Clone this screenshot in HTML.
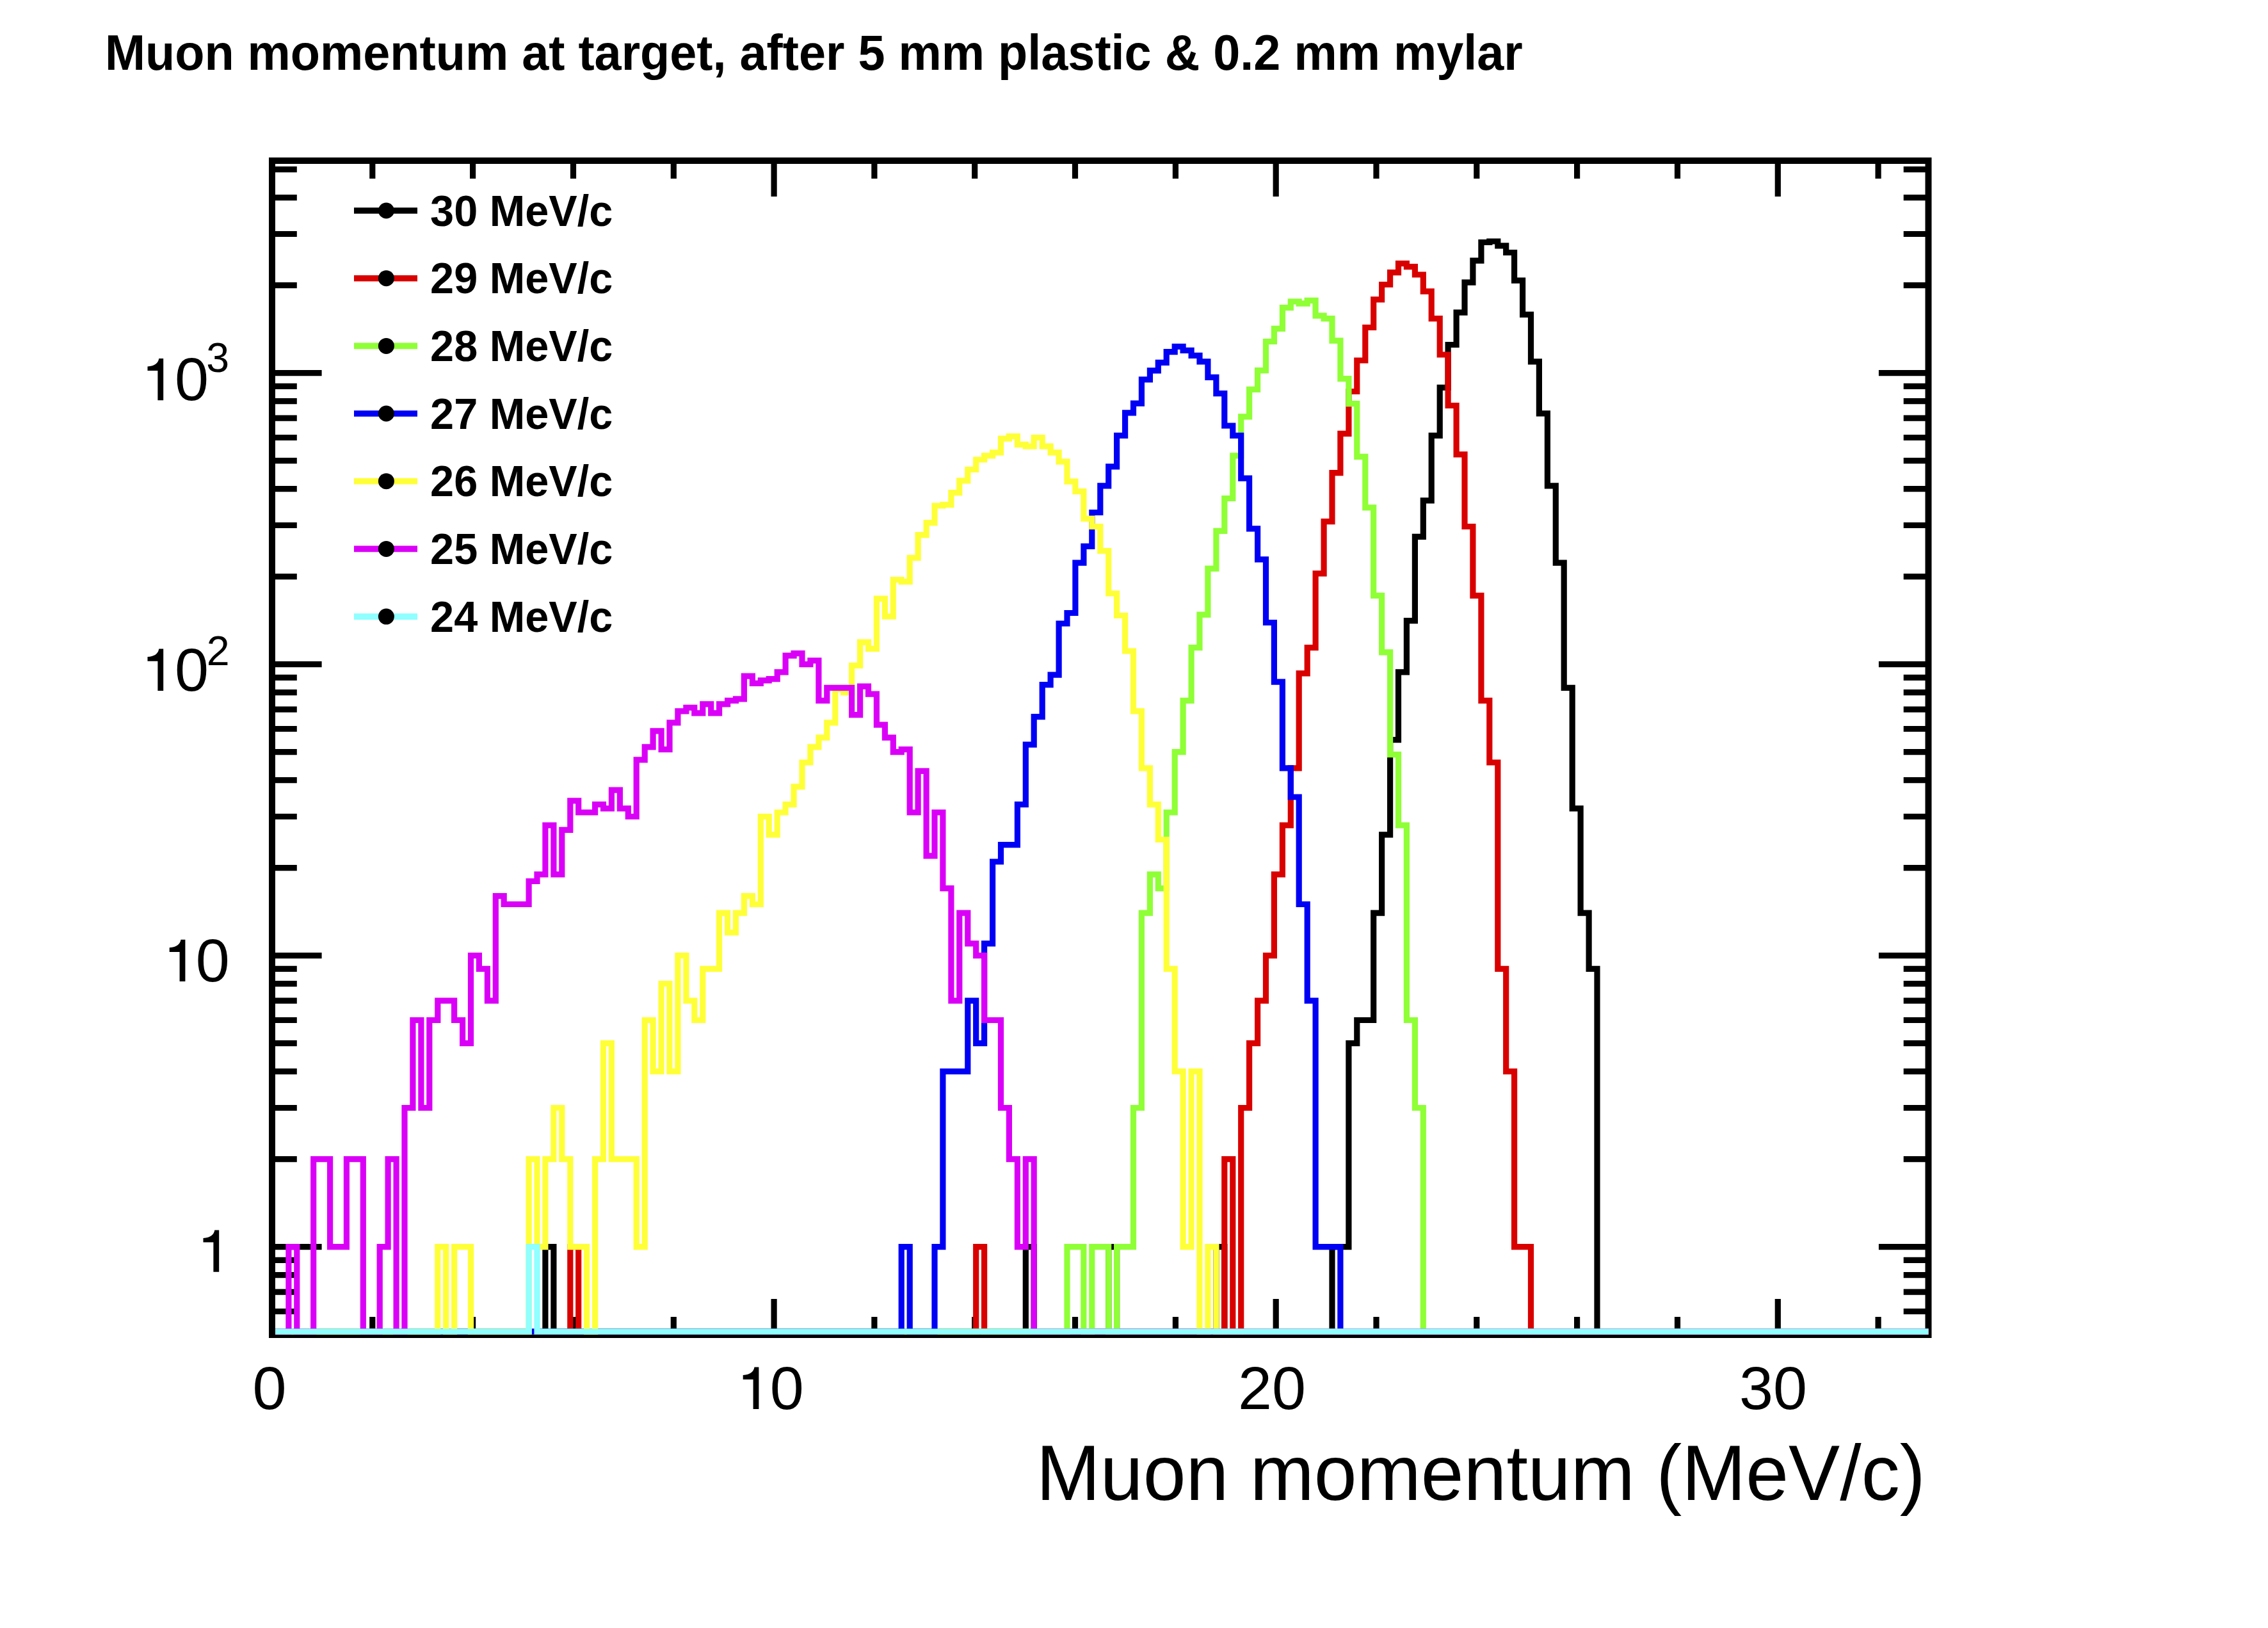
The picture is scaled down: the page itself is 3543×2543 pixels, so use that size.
<!DOCTYPE html>
<html><head><meta charset="utf-8"><style>html,body{margin:0;padding:0;background:#fff;overflow:hidden}svg{display:block}</style></head><body>
<svg width="3543" height="2543" viewBox="0 0 3543 2543">
<rect x="0" y="0" width="3543" height="2543" fill="#ffffff"/>
<rect x="425.0" y="251.0" width="2587.5" height="1834.0" fill="none" stroke="#000" stroke-width="10"/>
<path d="M425.0 2085.0V2029.0M425.0 251.0V307.0M581.8 2085.0V2057.0M581.8 251.0V279.0M738.6 2085.0V2057.0M738.6 251.0V279.0M895.5 2085.0V2057.0M895.5 251.0V279.0M1052.3 2085.0V2057.0M1052.3 251.0V279.0M1209.1 2085.0V2029.0M1209.1 251.0V307.0M1365.9 2085.0V2057.0M1365.9 251.0V279.0M1522.7 2085.0V2057.0M1522.7 251.0V279.0M1679.5 2085.0V2057.0M1679.5 251.0V279.0M1836.4 2085.0V2057.0M1836.4 251.0V279.0M1993.2 2085.0V2029.0M1993.2 251.0V307.0M2150.0 2085.0V2057.0M2150.0 251.0V279.0M2306.8 2085.0V2057.0M2306.8 251.0V279.0M2463.6 2085.0V2057.0M2463.6 251.0V279.0M2620.5 2085.0V2057.0M2620.5 251.0V279.0M2777.3 2085.0V2029.0M2777.3 251.0V307.0M2934.1 2085.0V2057.0M2934.1 251.0V279.0M425.0 2048.5H463.8M3012.5 2048.5H2973.7M425.0 2018.1H463.8M3012.5 2018.1H2973.7M425.0 1991.7H463.8M3012.5 1991.7H2973.7M425.0 1968.4H463.8M3012.5 1968.4H2973.7M425.0 1947.6H502.6M3012.5 1947.6H2934.9M425.0 1810.6H463.8M3012.5 1810.6H2973.7M425.0 1730.5H463.8M3012.5 1730.5H2973.7M425.0 1673.7H463.8M3012.5 1673.7H2973.7M425.0 1629.6H463.8M3012.5 1629.6H2973.7M425.0 1593.5H463.8M3012.5 1593.5H2973.7M425.0 1563.1H463.8M3012.5 1563.1H2973.7M425.0 1536.7H463.8M3012.5 1536.7H2973.7M425.0 1513.4H463.8M3012.5 1513.4H2973.7M425.0 1492.6H502.6M3012.5 1492.6H2934.9M425.0 1355.6H463.8M3012.5 1355.6H2973.7M425.0 1275.5H463.8M3012.5 1275.5H2973.7M425.0 1218.7H463.8M3012.5 1218.7H2973.7M425.0 1174.6H463.8M3012.5 1174.6H2973.7M425.0 1138.5H463.8M3012.5 1138.5H2973.7M425.0 1108.1H463.8M3012.5 1108.1H2973.7M425.0 1081.7H463.8M3012.5 1081.7H2973.7M425.0 1058.4H463.8M3012.5 1058.4H2973.7M425.0 1037.6H502.6M3012.5 1037.6H2934.9M425.0 900.6H463.8M3012.5 900.6H2973.7M425.0 820.5H463.8M3012.5 820.5H2973.7M425.0 763.7H463.8M3012.5 763.7H2973.7M425.0 719.6H463.8M3012.5 719.6H2973.7M425.0 683.5H463.8M3012.5 683.5H2973.7M425.0 653.1H463.8M3012.5 653.1H2973.7M425.0 626.7H463.8M3012.5 626.7H2973.7M425.0 603.4H463.8M3012.5 603.4H2973.7M425.0 582.6H502.6M3012.5 582.6H2934.9M425.0 445.6H463.8M3012.5 445.6H2973.7M425.0 365.5H463.8M3012.5 365.5H2973.7M425.0 308.7H463.8M3012.5 308.7H2973.7M425.0 264.6H463.8M3012.5 264.6H2973.7" stroke="#000" stroke-width="9.2" fill="none"/>
<path d="M425.0 2080.0L437.9 2080.0L437.9 2080.0L450.9 2080.0L450.9 2080.0L463.8 2080.0L463.8 2080.0L476.8 2080.0L476.8 2080.0L489.7 2080.0L489.7 2080.0L502.6 2080.0L502.6 2080.0L515.6 2080.0L515.6 2080.0L528.5 2080.0L528.5 2080.0L541.4 2080.0L541.4 2080.0L554.4 2080.0L554.4 2080.0L567.3 2080.0L567.3 2080.0L580.2 2080.0L580.2 2080.0L593.2 2080.0L593.2 2080.0L606.1 2080.0L606.1 2080.0L619.1 2080.0L619.1 2080.0L632.0 2080.0L632.0 2080.0L644.9 2080.0L644.9 2080.0L657.9 2080.0L657.9 2080.0L670.8 2080.0L670.8 2080.0L683.8 2080.0L683.8 2080.0L696.7 2080.0L696.7 2080.0L709.6 2080.0L709.6 2080.0L722.6 2080.0L722.6 2080.0L735.5 2080.0L735.5 2080.0L748.4 2080.0L748.4 2080.0L761.4 2080.0L761.4 2080.0L774.3 2080.0L774.3 2080.0L787.2 2080.0L787.2 2080.0L800.2 2080.0L800.2 2080.0L813.1 2080.0L813.1 2080.0L826.1 2080.0L826.1 2080.0L839.0 2080.0L839.0 2080.0L851.9 2080.0L851.9 1947.6L864.9 1947.6L864.9 2080.0L877.8 2080.0L877.8 2080.0L890.8 2080.0L890.8 2080.0L903.7 2080.0L903.7 2080.0L916.6 2080.0L916.6 2080.0L929.6 2080.0L929.6 2080.0L942.5 2080.0L942.5 2080.0L955.4 2080.0L955.4 2080.0L968.4 2080.0L968.4 2080.0L981.3 2080.0L981.3 2080.0L994.2 2080.0L994.2 2080.0L1007.2 2080.0L1007.2 2080.0L1020.1 2080.0L1020.1 2080.0L1033.1 2080.0L1033.1 2080.0L1046.0 2080.0L1046.0 2080.0L1058.9 2080.0L1058.9 2080.0L1071.9 2080.0L1071.9 2080.0L1084.8 2080.0L1084.8 2080.0L1097.8 2080.0L1097.8 2080.0L1110.7 2080.0L1110.7 2080.0L1123.6 2080.0L1123.6 2080.0L1136.6 2080.0L1136.6 2080.0L1149.5 2080.0L1149.5 2080.0L1162.4 2080.0L1162.4 2080.0L1175.4 2080.0L1175.4 2080.0L1188.3 2080.0L1188.3 2080.0L1201.2 2080.0L1201.2 2080.0L1214.2 2080.0L1214.2 2080.0L1227.1 2080.0L1227.1 2080.0L1240.1 2080.0L1240.1 2080.0L1253.0 2080.0L1253.0 2080.0L1265.9 2080.0L1265.9 2080.0L1278.9 2080.0L1278.9 2080.0L1291.8 2080.0L1291.8 2080.0L1304.8 2080.0L1304.8 2080.0L1317.7 2080.0L1317.7 2080.0L1330.6 2080.0L1330.6 2080.0L1343.6 2080.0L1343.6 2080.0L1356.5 2080.0L1356.5 2080.0L1369.4 2080.0L1369.4 2080.0L1382.4 2080.0L1382.4 2080.0L1395.3 2080.0L1395.3 2080.0L1408.2 2080.0L1408.2 2080.0L1421.2 2080.0L1421.2 2080.0L1434.1 2080.0L1434.1 2080.0L1447.1 2080.0L1447.1 2080.0L1460.0 2080.0L1460.0 2080.0L1472.9 2080.0L1472.9 2080.0L1485.9 2080.0L1485.9 2080.0L1498.8 2080.0L1498.8 2080.0L1511.8 2080.0L1511.8 2080.0L1524.7 2080.0L1524.7 2080.0L1537.6 2080.0L1537.6 2080.0L1550.6 2080.0L1550.6 2080.0L1563.5 2080.0L1563.5 2080.0L1576.4 2080.0L1576.4 2080.0L1589.4 2080.0L1589.4 2080.0L1602.3 2080.0L1602.3 1947.6L1615.2 1947.6L1615.2 2080.0L1628.2 2080.0L1628.2 2080.0L1641.1 2080.0L1641.1 2080.0L1654.1 2080.0L1654.1 2080.0L1667.0 2080.0L1667.0 2080.0L1679.9 2080.0L1679.9 2080.0L1692.9 2080.0L1692.9 2080.0L1705.8 2080.0L1705.8 2080.0L1718.8 2080.0L1718.8 2080.0L1731.7 2080.0L1731.7 1947.6L1744.6 1947.6L1744.6 2080.0L1757.6 2080.0L1757.6 2080.0L1770.5 2080.0L1770.5 2080.0L1783.4 2080.0L1783.4 2080.0L1796.4 2080.0L1796.4 2080.0L1809.3 2080.0L1809.3 2080.0L1822.2 2080.0L1822.2 2080.0L1835.2 2080.0L1835.2 2080.0L1848.1 2080.0L1848.1 2080.0L1861.1 2080.0L1861.1 2080.0L1874.0 2080.0L1874.0 2080.0L1886.9 2080.0L1886.9 2080.0L1899.9 2080.0L1899.9 1947.6L1912.8 1947.6L1912.8 2080.0L1925.8 2080.0L1925.8 2080.0L1938.7 2080.0L1938.7 2080.0L1951.6 2080.0L1951.6 2080.0L1964.6 2080.0L1964.6 2080.0L1977.5 2080.0L1977.5 2080.0L1990.4 2080.0L1990.4 2080.0L2003.4 2080.0L2003.4 2080.0L2016.3 2080.0L2016.3 2080.0L2029.2 2080.0L2029.2 2080.0L2042.2 2080.0L2042.2 2080.0L2055.1 2080.0L2055.1 2080.0L2068.1 2080.0L2068.1 2080.0L2081.0 2080.0L2081.0 1947.6L2093.9 1947.6L2093.9 1947.6L2106.9 1947.6L2106.9 1629.6L2119.8 1629.6L2119.8 1593.5L2132.8 1593.5L2132.8 1593.5L2145.7 1593.5L2145.7 1426.1L2158.6 1426.1L2158.6 1303.8L2171.6 1303.8L2171.6 1155.7L2184.5 1155.7L2184.5 1049.8L2197.4 1049.8L2197.4 969.7L2210.4 969.7L2210.4 838.4L2223.3 838.4L2223.3 781.8L2236.2 781.8L2236.2 680.3L2249.2 680.3L2249.2 605.4L2262.1 605.4L2262.1 538.5L2275.1 538.5L2275.1 488.2L2288.0 488.2L2288.0 441.1L2300.9 441.1L2300.9 407.1L2313.9 407.1L2313.9 378.5L2326.8 378.5L2326.8 377.0L2339.8 377.0L2339.8 383.8L2352.7 383.8L2352.7 394.5L2365.6 394.5L2365.6 438.1L2378.6 438.1L2378.6 491.3L2391.5 491.3L2391.5 564.8L2404.4 564.8L2404.4 645.9L2417.4 645.9L2417.4 758.8L2430.3 758.8L2430.3 879.1L2443.2 879.1L2443.2 1074.4L2456.2 1074.4L2456.2 1262.8L2469.1 1262.8L2469.1 1426.1L2482.1 1426.1L2482.1 1513.4L2495.0 1513.4L2495.0 2080.0L2507.9 2080.0L2507.9 2080.0L2520.9 2080.0L2520.9 2080.0L2533.8 2080.0L2533.8 2080.0L2546.8 2080.0L2546.8 2080.0L2559.7 2080.0L2559.7 2080.0L2572.6 2080.0L2572.6 2080.0L2585.6 2080.0L2585.6 2080.0L2598.5 2080.0L2598.5 2080.0L2611.4 2080.0L2611.4 2080.0L2624.4 2080.0L2624.4 2080.0L2637.3 2080.0L2637.3 2080.0L2650.2 2080.0L2650.2 2080.0L2663.2 2080.0L2663.2 2080.0L2676.1 2080.0L2676.1 2080.0L2689.1 2080.0L2689.1 2080.0L2702.0 2080.0L2702.0 2080.0L2714.9 2080.0L2714.9 2080.0L2727.9 2080.0L2727.9 2080.0L2740.8 2080.0L2740.8 2080.0L2753.8 2080.0L2753.8 2080.0L2766.7 2080.0L2766.7 2080.0L2779.6 2080.0L2779.6 2080.0L2792.6 2080.0L2792.6 2080.0L2805.5 2080.0L2805.5 2080.0L2818.4 2080.0L2818.4 2080.0L2831.4 2080.0L2831.4 2080.0L2844.3 2080.0L2844.3 2080.0L2857.2 2080.0L2857.2 2080.0L2870.2 2080.0L2870.2 2080.0L2883.1 2080.0L2883.1 2080.0L2896.1 2080.0L2896.1 2080.0L2909.0 2080.0L2909.0 2080.0L2921.9 2080.0L2921.9 2080.0L2934.9 2080.0L2934.9 2080.0L2947.8 2080.0L2947.8 2080.0L2960.8 2080.0L2960.8 2080.0L2973.7 2080.0L2973.7 2080.0L2986.6 2080.0L2986.6 2080.0L2999.6 2080.0L2999.6 2080.0L3012.5 2080.0" stroke="#000000" stroke-width="9.2" fill="none" stroke-linejoin="miter" stroke-linecap="butt"/>
<path d="M425.0 2080.0L437.9 2080.0L437.9 2080.0L450.9 2080.0L450.9 2080.0L463.8 2080.0L463.8 2080.0L476.8 2080.0L476.8 2080.0L489.7 2080.0L489.7 2080.0L502.6 2080.0L502.6 2080.0L515.6 2080.0L515.6 2080.0L528.5 2080.0L528.5 2080.0L541.4 2080.0L541.4 2080.0L554.4 2080.0L554.4 2080.0L567.3 2080.0L567.3 2080.0L580.2 2080.0L580.2 2080.0L593.2 2080.0L593.2 2080.0L606.1 2080.0L606.1 2080.0L619.1 2080.0L619.1 2080.0L632.0 2080.0L632.0 2080.0L644.9 2080.0L644.9 2080.0L657.9 2080.0L657.9 2080.0L670.8 2080.0L670.8 2080.0L683.8 2080.0L683.8 2080.0L696.7 2080.0L696.7 2080.0L709.6 2080.0L709.6 2080.0L722.6 2080.0L722.6 2080.0L735.5 2080.0L735.5 2080.0L748.4 2080.0L748.4 2080.0L761.4 2080.0L761.4 2080.0L774.3 2080.0L774.3 2080.0L787.2 2080.0L787.2 2080.0L800.2 2080.0L800.2 2080.0L813.1 2080.0L813.1 2080.0L826.1 2080.0L826.1 2080.0L839.0 2080.0L839.0 2080.0L851.9 2080.0L851.9 2080.0L864.9 2080.0L864.9 2080.0L877.8 2080.0L877.8 2080.0L890.8 2080.0L890.8 1947.6L903.7 1947.6L903.7 2080.0L916.6 2080.0L916.6 2080.0L929.6 2080.0L929.6 2080.0L942.5 2080.0L942.5 2080.0L955.4 2080.0L955.4 2080.0L968.4 2080.0L968.4 2080.0L981.3 2080.0L981.3 2080.0L994.2 2080.0L994.2 2080.0L1007.2 2080.0L1007.2 2080.0L1020.1 2080.0L1020.1 2080.0L1033.1 2080.0L1033.1 2080.0L1046.0 2080.0L1046.0 2080.0L1058.9 2080.0L1058.9 2080.0L1071.9 2080.0L1071.9 2080.0L1084.8 2080.0L1084.8 2080.0L1097.8 2080.0L1097.8 2080.0L1110.7 2080.0L1110.7 2080.0L1123.6 2080.0L1123.6 2080.0L1136.6 2080.0L1136.6 2080.0L1149.5 2080.0L1149.5 2080.0L1162.4 2080.0L1162.4 2080.0L1175.4 2080.0L1175.4 2080.0L1188.3 2080.0L1188.3 2080.0L1201.2 2080.0L1201.2 2080.0L1214.2 2080.0L1214.2 2080.0L1227.1 2080.0L1227.1 2080.0L1240.1 2080.0L1240.1 2080.0L1253.0 2080.0L1253.0 2080.0L1265.9 2080.0L1265.9 2080.0L1278.9 2080.0L1278.9 2080.0L1291.8 2080.0L1291.8 2080.0L1304.8 2080.0L1304.8 2080.0L1317.7 2080.0L1317.7 2080.0L1330.6 2080.0L1330.6 2080.0L1343.6 2080.0L1343.6 2080.0L1356.5 2080.0L1356.5 2080.0L1369.4 2080.0L1369.4 2080.0L1382.4 2080.0L1382.4 2080.0L1395.3 2080.0L1395.3 2080.0L1408.2 2080.0L1408.2 2080.0L1421.2 2080.0L1421.2 2080.0L1434.1 2080.0L1434.1 2080.0L1447.1 2080.0L1447.1 2080.0L1460.0 2080.0L1460.0 2080.0L1472.9 2080.0L1472.9 2080.0L1485.9 2080.0L1485.9 2080.0L1498.8 2080.0L1498.8 2080.0L1511.8 2080.0L1511.8 2080.0L1524.7 2080.0L1524.7 1947.6L1537.6 1947.6L1537.6 2080.0L1550.6 2080.0L1550.6 2080.0L1563.5 2080.0L1563.5 2080.0L1576.4 2080.0L1576.4 2080.0L1589.4 2080.0L1589.4 2080.0L1602.3 2080.0L1602.3 2080.0L1615.2 2080.0L1615.2 2080.0L1628.2 2080.0L1628.2 2080.0L1641.1 2080.0L1641.1 2080.0L1654.1 2080.0L1654.1 2080.0L1667.0 2080.0L1667.0 2080.0L1679.9 2080.0L1679.9 2080.0L1692.9 2080.0L1692.9 2080.0L1705.8 2080.0L1705.8 2080.0L1718.8 2080.0L1718.8 2080.0L1731.7 2080.0L1731.7 2080.0L1744.6 2080.0L1744.6 2080.0L1757.6 2080.0L1757.6 2080.0L1770.5 2080.0L1770.5 2080.0L1783.4 2080.0L1783.4 2080.0L1796.4 2080.0L1796.4 2080.0L1809.3 2080.0L1809.3 2080.0L1822.2 2080.0L1822.2 2080.0L1835.2 2080.0L1835.2 2080.0L1848.1 2080.0L1848.1 2080.0L1861.1 2080.0L1861.1 2080.0L1874.0 2080.0L1874.0 2080.0L1886.9 2080.0L1886.9 2080.0L1899.9 2080.0L1899.9 2080.0L1912.8 2080.0L1912.8 1810.6L1925.8 1810.6L1925.8 2080.0L1938.7 2080.0L1938.7 1730.5L1951.6 1730.5L1951.6 1629.6L1964.6 1629.6L1964.6 1563.1L1977.5 1563.1L1977.5 1492.6L1990.4 1492.6L1990.4 1365.8L2003.4 1365.8L2003.4 1289.1L2016.3 1289.1L2016.3 1199.8L2029.2 1199.8L2029.2 1051.9L2042.2 1051.9L2042.2 1011.7L2055.1 1011.7L2055.1 895.8L2068.1 895.8L2068.1 814.7L2081.0 814.7L2081.0 738.6L2093.9 738.6L2093.9 677.4L2106.9 677.4L2106.9 611.5L2119.8 611.5L2119.8 563.0L2132.8 563.0L2132.8 511.5L2145.7 511.5L2145.7 467.9L2158.6 467.9L2158.6 444.5L2171.6 444.5L2171.6 425.7L2184.5 425.7L2184.5 411.7L2197.4 411.7L2197.4 416.6L2210.4 416.6L2210.4 429.0L2223.3 429.0L2223.3 455.2L2236.2 455.2L2236.2 497.7L2249.2 497.7L2249.2 554.0L2262.1 554.0L2262.1 633.5L2275.1 633.5L2275.1 709.9L2288.0 709.9L2288.0 822.5L2300.9 822.5L2300.9 930.4L2313.9 930.4L2313.9 1094.4L2326.8 1094.4L2326.8 1191.0L2339.8 1191.0L2339.8 1513.4L2352.7 1513.4L2352.7 1673.7L2365.6 1673.7L2365.6 1947.6L2378.6 1947.6L2378.6 1947.6L2391.5 1947.6L2391.5 2080.0L2404.4 2080.0L2404.4 2080.0L2417.4 2080.0L2417.4 2080.0L2430.3 2080.0L2430.3 2080.0L2443.2 2080.0L2443.2 2080.0L2456.2 2080.0L2456.2 2080.0L2469.1 2080.0L2469.1 2080.0L2482.1 2080.0L2482.1 2080.0L2495.0 2080.0L2495.0 2080.0L2507.9 2080.0L2507.9 2080.0L2520.9 2080.0L2520.9 2080.0L2533.8 2080.0L2533.8 2080.0L2546.8 2080.0L2546.8 2080.0L2559.7 2080.0L2559.7 2080.0L2572.6 2080.0L2572.6 2080.0L2585.6 2080.0L2585.6 2080.0L2598.5 2080.0L2598.5 2080.0L2611.4 2080.0L2611.4 2080.0L2624.4 2080.0L2624.4 2080.0L2637.3 2080.0L2637.3 2080.0L2650.2 2080.0L2650.2 2080.0L2663.2 2080.0L2663.2 2080.0L2676.1 2080.0L2676.1 2080.0L2689.1 2080.0L2689.1 2080.0L2702.0 2080.0L2702.0 2080.0L2714.9 2080.0L2714.9 2080.0L2727.9 2080.0L2727.9 2080.0L2740.8 2080.0L2740.8 2080.0L2753.8 2080.0L2753.8 2080.0L2766.7 2080.0L2766.7 2080.0L2779.6 2080.0L2779.6 2080.0L2792.6 2080.0L2792.6 2080.0L2805.5 2080.0L2805.5 2080.0L2818.4 2080.0L2818.4 2080.0L2831.4 2080.0L2831.4 2080.0L2844.3 2080.0L2844.3 2080.0L2857.2 2080.0L2857.2 2080.0L2870.2 2080.0L2870.2 2080.0L2883.1 2080.0L2883.1 2080.0L2896.1 2080.0L2896.1 2080.0L2909.0 2080.0L2909.0 2080.0L2921.9 2080.0L2921.9 2080.0L2934.9 2080.0L2934.9 2080.0L2947.8 2080.0L2947.8 2080.0L2960.8 2080.0L2960.8 2080.0L2973.7 2080.0L2973.7 2080.0L2986.6 2080.0L2986.6 2080.0L2999.6 2080.0L2999.6 2080.0L3012.5 2080.0" stroke="#d90000" stroke-width="9.2" fill="none" stroke-linejoin="miter" stroke-linecap="butt"/>
<path d="M425.0 2080.0L437.9 2080.0L437.9 2080.0L450.9 2080.0L450.9 2080.0L463.8 2080.0L463.8 2080.0L476.8 2080.0L476.8 2080.0L489.7 2080.0L489.7 2080.0L502.6 2080.0L502.6 2080.0L515.6 2080.0L515.6 2080.0L528.5 2080.0L528.5 2080.0L541.4 2080.0L541.4 2080.0L554.4 2080.0L554.4 2080.0L567.3 2080.0L567.3 2080.0L580.2 2080.0L580.2 2080.0L593.2 2080.0L593.2 2080.0L606.1 2080.0L606.1 2080.0L619.1 2080.0L619.1 2080.0L632.0 2080.0L632.0 2080.0L644.9 2080.0L644.9 2080.0L657.9 2080.0L657.9 2080.0L670.8 2080.0L670.8 2080.0L683.8 2080.0L683.8 2080.0L696.7 2080.0L696.7 2080.0L709.6 2080.0L709.6 2080.0L722.6 2080.0L722.6 2080.0L735.5 2080.0L735.5 2080.0L748.4 2080.0L748.4 2080.0L761.4 2080.0L761.4 2080.0L774.3 2080.0L774.3 2080.0L787.2 2080.0L787.2 2080.0L800.2 2080.0L800.2 2080.0L813.1 2080.0L813.1 2080.0L826.1 2080.0L826.1 2080.0L839.0 2080.0L839.0 2080.0L851.9 2080.0L851.9 2080.0L864.9 2080.0L864.9 2080.0L877.8 2080.0L877.8 2080.0L890.8 2080.0L890.8 2080.0L903.7 2080.0L903.7 2080.0L916.6 2080.0L916.6 2080.0L929.6 2080.0L929.6 2080.0L942.5 2080.0L942.5 2080.0L955.4 2080.0L955.4 2080.0L968.4 2080.0L968.4 2080.0L981.3 2080.0L981.3 2080.0L994.2 2080.0L994.2 2080.0L1007.2 2080.0L1007.2 2080.0L1020.1 2080.0L1020.1 2080.0L1033.1 2080.0L1033.1 2080.0L1046.0 2080.0L1046.0 2080.0L1058.9 2080.0L1058.9 2080.0L1071.9 2080.0L1071.9 2080.0L1084.8 2080.0L1084.8 2080.0L1097.8 2080.0L1097.8 2080.0L1110.7 2080.0L1110.7 2080.0L1123.6 2080.0L1123.6 2080.0L1136.6 2080.0L1136.6 2080.0L1149.5 2080.0L1149.5 2080.0L1162.4 2080.0L1162.4 2080.0L1175.4 2080.0L1175.4 2080.0L1188.3 2080.0L1188.3 2080.0L1201.2 2080.0L1201.2 2080.0L1214.2 2080.0L1214.2 2080.0L1227.1 2080.0L1227.1 2080.0L1240.1 2080.0L1240.1 2080.0L1253.0 2080.0L1253.0 2080.0L1265.9 2080.0L1265.9 2080.0L1278.9 2080.0L1278.9 2080.0L1291.8 2080.0L1291.8 2080.0L1304.8 2080.0L1304.8 2080.0L1317.7 2080.0L1317.7 2080.0L1330.6 2080.0L1330.6 2080.0L1343.6 2080.0L1343.6 2080.0L1356.5 2080.0L1356.5 2080.0L1369.4 2080.0L1369.4 2080.0L1382.4 2080.0L1382.4 2080.0L1395.3 2080.0L1395.3 2080.0L1408.2 2080.0L1408.2 2080.0L1421.2 2080.0L1421.2 2080.0L1434.1 2080.0L1434.1 2080.0L1447.1 2080.0L1447.1 2080.0L1460.0 2080.0L1460.0 2080.0L1472.9 2080.0L1472.9 2080.0L1485.9 2080.0L1485.9 2080.0L1498.8 2080.0L1498.8 2080.0L1511.8 2080.0L1511.8 2080.0L1524.7 2080.0L1524.7 2080.0L1537.6 2080.0L1537.6 2080.0L1550.6 2080.0L1550.6 2080.0L1563.5 2080.0L1563.5 2080.0L1576.4 2080.0L1576.4 2080.0L1589.4 2080.0L1589.4 2080.0L1602.3 2080.0L1602.3 2080.0L1615.2 2080.0L1615.2 2080.0L1628.2 2080.0L1628.2 2080.0L1641.1 2080.0L1641.1 2080.0L1654.1 2080.0L1654.1 2080.0L1667.0 2080.0L1667.0 1947.6L1679.9 1947.6L1679.9 1947.6L1692.9 1947.6L1692.9 2080.0L1705.8 2080.0L1705.8 1947.6L1718.8 1947.6L1718.8 1947.6L1731.7 1947.6L1731.7 2080.0L1744.6 2080.0L1744.6 1947.6L1757.6 1947.6L1757.6 1947.6L1770.5 1947.6L1770.5 1730.5L1783.4 1730.5L1783.4 1426.1L1796.4 1426.1L1796.4 1365.8L1809.3 1365.8L1809.3 1387.7L1822.2 1387.7L1822.2 1269.0L1835.2 1269.0L1835.2 1174.6L1848.1 1174.6L1848.1 1094.4L1861.1 1094.4L1861.1 1011.7L1874.0 1011.7L1874.0 960.1L1886.9 960.1L1886.9 888.2L1899.9 888.2L1899.9 829.3L1912.8 829.3L1912.8 778.5L1925.8 778.5L1925.8 711.8L1938.7 711.8L1938.7 650.8L1951.6 650.8L1951.6 608.3L1964.6 608.3L1964.6 578.7L1977.5 578.7L1977.5 533.5L1990.4 533.5L1990.4 513.3L2003.4 513.3L2003.4 480.6L2016.3 480.6L2016.3 471.0L2029.2 471.0L2029.2 474.2L2042.2 474.2L2042.2 469.4L2055.1 469.4L2055.1 493.1L2068.1 493.1L2068.1 497.7L2081.0 497.7L2081.0 532.1L2093.9 532.1L2093.9 591.7L2106.9 591.7L2106.9 630.7L2119.8 630.7L2119.8 713.3L2132.8 713.3L2132.8 792.9L2145.7 792.9L2145.7 930.4L2158.6 930.4L2158.6 1018.8L2171.6 1018.8L2171.6 1178.6L2184.5 1178.6L2184.5 1289.1L2197.4 1289.1L2197.4 1593.5L2210.4 1593.5L2210.4 1730.5L2223.3 1730.5L2223.3 2080.0L2236.2 2080.0L2236.2 2080.0L2249.2 2080.0L2249.2 2080.0L2262.1 2080.0L2262.1 2080.0L2275.1 2080.0L2275.1 2080.0L2288.0 2080.0L2288.0 2080.0L2300.9 2080.0L2300.9 2080.0L2313.9 2080.0L2313.9 2080.0L2326.8 2080.0L2326.8 2080.0L2339.8 2080.0L2339.8 2080.0L2352.7 2080.0L2352.7 2080.0L2365.6 2080.0L2365.6 2080.0L2378.6 2080.0L2378.6 2080.0L2391.5 2080.0L2391.5 2080.0L2404.4 2080.0L2404.4 2080.0L2417.4 2080.0L2417.4 2080.0L2430.3 2080.0L2430.3 2080.0L2443.2 2080.0L2443.2 2080.0L2456.2 2080.0L2456.2 2080.0L2469.1 2080.0L2469.1 2080.0L2482.1 2080.0L2482.1 2080.0L2495.0 2080.0L2495.0 2080.0L2507.9 2080.0L2507.9 2080.0L2520.9 2080.0L2520.9 2080.0L2533.8 2080.0L2533.8 2080.0L2546.8 2080.0L2546.8 2080.0L2559.7 2080.0L2559.7 2080.0L2572.6 2080.0L2572.6 2080.0L2585.6 2080.0L2585.6 2080.0L2598.5 2080.0L2598.5 2080.0L2611.4 2080.0L2611.4 2080.0L2624.4 2080.0L2624.4 2080.0L2637.3 2080.0L2637.3 2080.0L2650.2 2080.0L2650.2 2080.0L2663.2 2080.0L2663.2 2080.0L2676.1 2080.0L2676.1 2080.0L2689.1 2080.0L2689.1 2080.0L2702.0 2080.0L2702.0 2080.0L2714.9 2080.0L2714.9 2080.0L2727.9 2080.0L2727.9 2080.0L2740.8 2080.0L2740.8 2080.0L2753.8 2080.0L2753.8 2080.0L2766.7 2080.0L2766.7 2080.0L2779.6 2080.0L2779.6 2080.0L2792.6 2080.0L2792.6 2080.0L2805.5 2080.0L2805.5 2080.0L2818.4 2080.0L2818.4 2080.0L2831.4 2080.0L2831.4 2080.0L2844.3 2080.0L2844.3 2080.0L2857.2 2080.0L2857.2 2080.0L2870.2 2080.0L2870.2 2080.0L2883.1 2080.0L2883.1 2080.0L2896.1 2080.0L2896.1 2080.0L2909.0 2080.0L2909.0 2080.0L2921.9 2080.0L2921.9 2080.0L2934.9 2080.0L2934.9 2080.0L2947.8 2080.0L2947.8 2080.0L2960.8 2080.0L2960.8 2080.0L2973.7 2080.0L2973.7 2080.0L2986.6 2080.0L2986.6 2080.0L2999.6 2080.0L2999.6 2080.0L3012.5 2080.0" stroke="#8fff36" stroke-width="9.2" fill="none" stroke-linejoin="miter" stroke-linecap="butt"/>
<path d="M425.0 2080.0L437.9 2080.0L437.9 2080.0L450.9 2080.0L450.9 2080.0L463.8 2080.0L463.8 2080.0L476.8 2080.0L476.8 2080.0L489.7 2080.0L489.7 2080.0L502.6 2080.0L502.6 2080.0L515.6 2080.0L515.6 2080.0L528.5 2080.0L528.5 2080.0L541.4 2080.0L541.4 2080.0L554.4 2080.0L554.4 2080.0L567.3 2080.0L567.3 2080.0L580.2 2080.0L580.2 2080.0L593.2 2080.0L593.2 2080.0L606.1 2080.0L606.1 2080.0L619.1 2080.0L619.1 2080.0L632.0 2080.0L632.0 2080.0L644.9 2080.0L644.9 2080.0L657.9 2080.0L657.9 2080.0L670.8 2080.0L670.8 2080.0L683.8 2080.0L683.8 2080.0L696.7 2080.0L696.7 2080.0L709.6 2080.0L709.6 2080.0L722.6 2080.0L722.6 2080.0L735.5 2080.0L735.5 2080.0L748.4 2080.0L748.4 2080.0L761.4 2080.0L761.4 2080.0L774.3 2080.0L774.3 2080.0L787.2 2080.0L787.2 2080.0L800.2 2080.0L800.2 2080.0L813.1 2080.0L813.1 2080.0L826.1 2080.0L826.1 2080.0L839.0 2080.0L839.0 2080.0L851.9 2080.0L851.9 2080.0L864.9 2080.0L864.9 2080.0L877.8 2080.0L877.8 2080.0L890.8 2080.0L890.8 2080.0L903.7 2080.0L903.7 2080.0L916.6 2080.0L916.6 2080.0L929.6 2080.0L929.6 2080.0L942.5 2080.0L942.5 2080.0L955.4 2080.0L955.4 2080.0L968.4 2080.0L968.4 2080.0L981.3 2080.0L981.3 2080.0L994.2 2080.0L994.2 2080.0L1007.2 2080.0L1007.2 2080.0L1020.1 2080.0L1020.1 2080.0L1033.1 2080.0L1033.1 2080.0L1046.0 2080.0L1046.0 2080.0L1058.9 2080.0L1058.9 2080.0L1071.9 2080.0L1071.9 2080.0L1084.8 2080.0L1084.8 2080.0L1097.8 2080.0L1097.8 2080.0L1110.7 2080.0L1110.7 2080.0L1123.6 2080.0L1123.6 2080.0L1136.6 2080.0L1136.6 2080.0L1149.5 2080.0L1149.5 2080.0L1162.4 2080.0L1162.4 2080.0L1175.4 2080.0L1175.4 2080.0L1188.3 2080.0L1188.3 2080.0L1201.2 2080.0L1201.2 2080.0L1214.2 2080.0L1214.2 2080.0L1227.1 2080.0L1227.1 2080.0L1240.1 2080.0L1240.1 2080.0L1253.0 2080.0L1253.0 2080.0L1265.9 2080.0L1265.9 2080.0L1278.9 2080.0L1278.9 2080.0L1291.8 2080.0L1291.8 2080.0L1304.8 2080.0L1304.8 2080.0L1317.7 2080.0L1317.7 2080.0L1330.6 2080.0L1330.6 2080.0L1343.6 2080.0L1343.6 2080.0L1356.5 2080.0L1356.5 2080.0L1369.4 2080.0L1369.4 2080.0L1382.4 2080.0L1382.4 2080.0L1395.3 2080.0L1395.3 2080.0L1408.2 2080.0L1408.2 1947.6L1421.2 1947.6L1421.2 2080.0L1434.1 2080.0L1434.1 2080.0L1447.1 2080.0L1447.1 2080.0L1460.0 2080.0L1460.0 1947.6L1472.9 1947.6L1472.9 1673.7L1485.9 1673.7L1485.9 1673.7L1498.8 1673.7L1498.8 1673.7L1511.8 1673.7L1511.8 1563.1L1524.7 1563.1L1524.7 1629.6L1537.6 1629.6L1537.6 1473.8L1550.6 1473.8L1550.6 1346.0L1563.5 1346.0L1563.5 1319.6L1576.4 1319.6L1576.4 1319.6L1589.4 1319.6L1589.4 1256.7L1602.3 1256.7L1602.3 1163.1L1615.2 1163.1L1615.2 1119.7L1628.2 1119.7L1628.2 1069.7L1641.1 1069.7L1641.1 1054.1L1654.1 1054.1L1654.1 974.0L1667.0 974.0L1667.0 957.5L1679.9 957.5L1679.9 879.1L1692.9 879.1L1692.9 853.4L1705.8 853.4L1705.8 800.5L1718.8 800.5L1718.8 758.8L1731.7 758.8L1731.7 728.9L1744.6 728.9L1744.6 680.3L1757.6 680.3L1757.6 644.8L1770.5 644.8L1770.5 630.2L1783.4 630.2L1783.4 592.9L1796.4 592.9L1796.4 578.9L1809.3 578.9L1809.3 566.3L1822.2 566.3L1822.2 549.6L1835.2 549.6L1835.2 541.4L1848.1 541.4L1848.1 547.4L1861.1 547.4L1861.1 555.3L1874.0 555.3L1874.0 564.8L1886.9 564.8L1886.9 589.4L1899.9 589.4L1899.9 614.7L1912.8 614.7L1912.8 665.0L1925.8 665.0L1925.8 680.3L1938.7 680.3L1938.7 747.1L1951.6 747.1L1951.6 825.9L1964.6 825.9L1964.6 873.9L1977.5 873.9L1977.5 972.5L1990.4 972.5L1990.4 1065.1L2003.4 1065.1L2003.4 1199.8L2016.3 1199.8L2016.3 1245.0L2029.2 1245.0L2029.2 1412.5L2042.2 1412.5L2042.2 1563.1L2055.1 1563.1L2055.1 1947.6L2068.1 1947.6L2068.1 1947.6L2081.0 1947.6L2081.0 1947.6L2093.9 1947.6L2093.9 2080.0L2106.9 2080.0L2106.9 2080.0L2119.8 2080.0L2119.8 2080.0L2132.8 2080.0L2132.8 2080.0L2145.7 2080.0L2145.7 2080.0L2158.6 2080.0L2158.6 2080.0L2171.6 2080.0L2171.6 2080.0L2184.5 2080.0L2184.5 2080.0L2197.4 2080.0L2197.4 2080.0L2210.4 2080.0L2210.4 2080.0L2223.3 2080.0L2223.3 2080.0L2236.2 2080.0L2236.2 2080.0L2249.2 2080.0L2249.2 2080.0L2262.1 2080.0L2262.1 2080.0L2275.1 2080.0L2275.1 2080.0L2288.0 2080.0L2288.0 2080.0L2300.9 2080.0L2300.9 2080.0L2313.9 2080.0L2313.9 2080.0L2326.8 2080.0L2326.8 2080.0L2339.8 2080.0L2339.8 2080.0L2352.7 2080.0L2352.7 2080.0L2365.6 2080.0L2365.6 2080.0L2378.6 2080.0L2378.6 2080.0L2391.5 2080.0L2391.5 2080.0L2404.4 2080.0L2404.4 2080.0L2417.4 2080.0L2417.4 2080.0L2430.3 2080.0L2430.3 2080.0L2443.2 2080.0L2443.2 2080.0L2456.2 2080.0L2456.2 2080.0L2469.1 2080.0L2469.1 2080.0L2482.1 2080.0L2482.1 2080.0L2495.0 2080.0L2495.0 2080.0L2507.9 2080.0L2507.9 2080.0L2520.9 2080.0L2520.9 2080.0L2533.8 2080.0L2533.8 2080.0L2546.8 2080.0L2546.8 2080.0L2559.7 2080.0L2559.7 2080.0L2572.6 2080.0L2572.6 2080.0L2585.6 2080.0L2585.6 2080.0L2598.5 2080.0L2598.5 2080.0L2611.4 2080.0L2611.4 2080.0L2624.4 2080.0L2624.4 2080.0L2637.3 2080.0L2637.3 2080.0L2650.2 2080.0L2650.2 2080.0L2663.2 2080.0L2663.2 2080.0L2676.1 2080.0L2676.1 2080.0L2689.1 2080.0L2689.1 2080.0L2702.0 2080.0L2702.0 2080.0L2714.9 2080.0L2714.9 2080.0L2727.9 2080.0L2727.9 2080.0L2740.8 2080.0L2740.8 2080.0L2753.8 2080.0L2753.8 2080.0L2766.7 2080.0L2766.7 2080.0L2779.6 2080.0L2779.6 2080.0L2792.6 2080.0L2792.6 2080.0L2805.5 2080.0L2805.5 2080.0L2818.4 2080.0L2818.4 2080.0L2831.4 2080.0L2831.4 2080.0L2844.3 2080.0L2844.3 2080.0L2857.2 2080.0L2857.2 2080.0L2870.2 2080.0L2870.2 2080.0L2883.1 2080.0L2883.1 2080.0L2896.1 2080.0L2896.1 2080.0L2909.0 2080.0L2909.0 2080.0L2921.9 2080.0L2921.9 2080.0L2934.9 2080.0L2934.9 2080.0L2947.8 2080.0L2947.8 2080.0L2960.8 2080.0L2960.8 2080.0L2973.7 2080.0L2973.7 2080.0L2986.6 2080.0L2986.6 2080.0L2999.6 2080.0L2999.6 2080.0L3012.5 2080.0" stroke="#0000f5" stroke-width="9.2" fill="none" stroke-linejoin="miter" stroke-linecap="butt"/>
<path d="M425.0 2080.0L437.9 2080.0L437.9 2080.0L450.9 2080.0L450.9 2080.0L463.8 2080.0L463.8 2080.0L476.8 2080.0L476.8 2080.0L489.7 2080.0L489.7 2080.0L502.6 2080.0L502.6 2080.0L515.6 2080.0L515.6 2080.0L528.5 2080.0L528.5 2080.0L541.4 2080.0L541.4 2080.0L554.4 2080.0L554.4 2080.0L567.3 2080.0L567.3 2080.0L580.2 2080.0L580.2 2080.0L593.2 2080.0L593.2 2080.0L606.1 2080.0L606.1 2080.0L619.1 2080.0L619.1 2080.0L632.0 2080.0L632.0 2080.0L644.9 2080.0L644.9 2080.0L657.9 2080.0L657.9 2080.0L670.8 2080.0L670.8 2080.0L683.8 2080.0L683.8 1947.6L696.7 1947.6L696.7 2080.0L709.6 2080.0L709.6 1947.6L722.6 1947.6L722.6 1947.6L735.5 1947.6L735.5 2080.0L748.4 2080.0L748.4 2080.0L761.4 2080.0L761.4 2080.0L774.3 2080.0L774.3 2080.0L787.2 2080.0L787.2 2080.0L800.2 2080.0L800.2 2080.0L813.1 2080.0L813.1 2080.0L826.1 2080.0L826.1 1810.6L839.0 1810.6L839.0 1947.6L851.9 1947.6L851.9 1810.6L864.9 1810.6L864.9 1730.5L877.8 1730.5L877.8 1810.6L890.8 1810.6L890.8 1947.6L903.7 1947.6L903.7 1947.6L916.6 1947.6L916.6 2080.0L929.6 2080.0L929.6 1810.6L942.5 1810.6L942.5 1629.6L955.4 1629.6L955.4 1810.6L968.4 1810.6L968.4 1810.6L981.3 1810.6L981.3 1810.6L994.2 1810.6L994.2 1947.6L1007.2 1947.6L1007.2 1593.5L1020.1 1593.5L1020.1 1673.7L1033.1 1673.7L1033.1 1536.7L1046.0 1536.7L1046.0 1673.7L1058.9 1673.7L1058.9 1492.6L1071.9 1492.6L1071.9 1563.1L1084.8 1563.1L1084.8 1593.5L1097.8 1593.5L1097.8 1513.4L1110.7 1513.4L1110.7 1513.4L1123.6 1513.4L1123.6 1426.1L1136.6 1426.1L1136.6 1456.6L1149.5 1456.6L1149.5 1426.1L1162.4 1426.1L1162.4 1399.7L1175.4 1399.7L1175.4 1412.5L1188.3 1412.5L1188.3 1275.5L1201.2 1275.5L1201.2 1303.8L1214.2 1303.8L1214.2 1269.0L1227.1 1269.0L1227.1 1256.7L1240.1 1256.7L1240.1 1228.8L1253.0 1228.8L1253.0 1191.0L1265.9 1191.0L1265.9 1166.8L1278.9 1166.8L1278.9 1152.2L1291.8 1152.2L1291.8 1128.9L1304.8 1128.9L1304.8 1076.8L1317.7 1076.8L1317.7 1081.7L1330.6 1081.7L1330.6 1039.6L1343.6 1039.6L1343.6 1003.2L1356.5 1003.2L1356.5 1013.4L1369.4 1013.4L1369.4 935.1L1382.4 935.1L1382.4 962.8L1395.3 962.8L1395.3 905.6L1408.2 905.6L1408.2 908.7L1421.2 908.7L1421.2 871.3L1434.1 871.3L1434.1 835.6L1447.1 835.6L1447.1 816.6L1460.0 816.6L1460.0 790.0L1472.9 790.0L1472.9 788.4L1485.9 788.4L1485.9 769.7L1498.8 769.7L1498.8 750.8L1511.8 750.8L1511.8 733.5L1524.7 733.5L1524.7 718.0L1537.6 718.0L1537.6 711.8L1550.6 711.8L1550.6 706.9L1563.5 706.9L1563.5 685.2L1576.4 685.2L1576.4 681.6L1589.4 681.6L1589.4 694.4L1602.3 694.4L1602.3 697.2L1615.2 697.2L1615.2 683.5L1628.2 683.5L1628.2 697.2L1641.1 697.2L1641.1 706.9L1654.1 706.9L1654.1 721.2L1667.0 721.2L1667.0 752.1L1679.9 752.1L1679.9 767.7L1692.9 767.7L1692.9 810.2L1705.8 810.2L1705.8 822.5L1718.8 822.5L1718.8 860.5L1731.7 860.5L1731.7 927.0L1744.6 927.0L1744.6 961.5L1757.6 961.5L1757.6 1017.0L1770.5 1017.0L1770.5 1110.9L1783.4 1110.9L1783.4 1199.8L1796.4 1199.8L1796.4 1256.7L1809.3 1256.7L1809.3 1311.5L1822.2 1311.5L1822.2 1513.4L1835.2 1513.4L1835.2 1673.7L1848.1 1673.7L1848.1 1947.6L1861.1 1947.6L1861.1 1673.7L1874.0 1673.7L1874.0 2080.0L1886.9 2080.0L1886.9 1947.6L1899.9 1947.6L1899.9 2080.0L1912.8 2080.0L1912.8 2080.0L1925.8 2080.0L1925.8 2080.0L1938.7 2080.0L1938.7 2080.0L1951.6 2080.0L1951.6 2080.0L1964.6 2080.0L1964.6 2080.0L1977.5 2080.0L1977.5 2080.0L1990.4 2080.0L1990.4 2080.0L2003.4 2080.0L2003.4 2080.0L2016.3 2080.0L2016.3 2080.0L2029.2 2080.0L2029.2 2080.0L2042.2 2080.0L2042.2 2080.0L2055.1 2080.0L2055.1 2080.0L2068.1 2080.0L2068.1 2080.0L2081.0 2080.0L2081.0 2080.0L2093.9 2080.0L2093.9 2080.0L2106.9 2080.0L2106.9 2080.0L2119.8 2080.0L2119.8 2080.0L2132.8 2080.0L2132.8 2080.0L2145.7 2080.0L2145.7 2080.0L2158.6 2080.0L2158.6 2080.0L2171.6 2080.0L2171.6 2080.0L2184.5 2080.0L2184.5 2080.0L2197.4 2080.0L2197.4 2080.0L2210.4 2080.0L2210.4 2080.0L2223.3 2080.0L2223.3 2080.0L2236.2 2080.0L2236.2 2080.0L2249.2 2080.0L2249.2 2080.0L2262.1 2080.0L2262.1 2080.0L2275.1 2080.0L2275.1 2080.0L2288.0 2080.0L2288.0 2080.0L2300.9 2080.0L2300.9 2080.0L2313.9 2080.0L2313.9 2080.0L2326.8 2080.0L2326.8 2080.0L2339.8 2080.0L2339.8 2080.0L2352.7 2080.0L2352.7 2080.0L2365.6 2080.0L2365.6 2080.0L2378.6 2080.0L2378.6 2080.0L2391.5 2080.0L2391.5 2080.0L2404.4 2080.0L2404.4 2080.0L2417.4 2080.0L2417.4 2080.0L2430.3 2080.0L2430.3 2080.0L2443.2 2080.0L2443.2 2080.0L2456.2 2080.0L2456.2 2080.0L2469.1 2080.0L2469.1 2080.0L2482.1 2080.0L2482.1 2080.0L2495.0 2080.0L2495.0 2080.0L2507.9 2080.0L2507.9 2080.0L2520.9 2080.0L2520.9 2080.0L2533.8 2080.0L2533.8 2080.0L2546.8 2080.0L2546.8 2080.0L2559.7 2080.0L2559.7 2080.0L2572.6 2080.0L2572.6 2080.0L2585.6 2080.0L2585.6 2080.0L2598.5 2080.0L2598.5 2080.0L2611.4 2080.0L2611.4 2080.0L2624.4 2080.0L2624.4 2080.0L2637.3 2080.0L2637.3 2080.0L2650.2 2080.0L2650.2 2080.0L2663.2 2080.0L2663.2 2080.0L2676.1 2080.0L2676.1 2080.0L2689.1 2080.0L2689.1 2080.0L2702.0 2080.0L2702.0 2080.0L2714.9 2080.0L2714.9 2080.0L2727.9 2080.0L2727.9 2080.0L2740.8 2080.0L2740.8 2080.0L2753.8 2080.0L2753.8 2080.0L2766.7 2080.0L2766.7 2080.0L2779.6 2080.0L2779.6 2080.0L2792.6 2080.0L2792.6 2080.0L2805.5 2080.0L2805.5 2080.0L2818.4 2080.0L2818.4 2080.0L2831.4 2080.0L2831.4 2080.0L2844.3 2080.0L2844.3 2080.0L2857.2 2080.0L2857.2 2080.0L2870.2 2080.0L2870.2 2080.0L2883.1 2080.0L2883.1 2080.0L2896.1 2080.0L2896.1 2080.0L2909.0 2080.0L2909.0 2080.0L2921.9 2080.0L2921.9 2080.0L2934.9 2080.0L2934.9 2080.0L2947.8 2080.0L2947.8 2080.0L2960.8 2080.0L2960.8 2080.0L2973.7 2080.0L2973.7 2080.0L2986.6 2080.0L2986.6 2080.0L2999.6 2080.0L2999.6 2080.0L3012.5 2080.0" stroke="#ffff38" stroke-width="9.2" fill="none" stroke-linejoin="miter" stroke-linecap="butt"/>
<path d="M425.0 2080.0L437.9 2080.0L437.9 2080.0L450.9 2080.0L450.9 1947.6L463.8 1947.6L463.8 2080.0L476.8 2080.0L476.8 2080.0L489.7 2080.0L489.7 1810.6L502.6 1810.6L502.6 1810.6L515.6 1810.6L515.6 1947.6L528.5 1947.6L528.5 1947.6L541.4 1947.6L541.4 1810.6L554.4 1810.6L554.4 1810.6L567.3 1810.6L567.3 2080.0L580.2 2080.0L580.2 2080.0L593.2 2080.0L593.2 1947.6L606.1 1947.6L606.1 1810.6L619.1 1810.6L619.1 2080.0L632.0 2080.0L632.0 1730.5L644.9 1730.5L644.9 1593.5L657.9 1593.5L657.9 1730.5L670.8 1730.5L670.8 1593.5L683.8 1593.5L683.8 1563.1L696.7 1563.1L696.7 1563.1L709.6 1563.1L709.6 1593.5L722.6 1593.5L722.6 1629.6L735.5 1629.6L735.5 1492.6L748.4 1492.6L748.4 1513.4L761.4 1513.4L761.4 1563.1L774.3 1563.1L774.3 1399.7L787.2 1399.7L787.2 1412.5L800.2 1412.5L800.2 1412.5L813.1 1412.5L813.1 1412.5L826.1 1412.5L826.1 1376.5L839.0 1376.5L839.0 1365.8L851.9 1365.8L851.9 1289.1L864.9 1289.1L864.9 1365.8L877.8 1365.8L877.8 1296.3L890.8 1296.3L890.8 1250.8L903.7 1250.8L903.7 1269.0L916.6 1269.0L916.6 1269.0L929.6 1269.0L929.6 1256.7L942.5 1256.7L942.5 1262.8L955.4 1262.8L955.4 1234.1L968.4 1234.1L968.4 1262.8L981.3 1262.8L981.3 1275.5L994.2 1275.5L994.2 1186.8L1007.2 1186.8L1007.2 1166.8L1020.1 1166.8L1020.1 1141.9L1033.1 1141.9L1033.1 1170.7L1046.0 1170.7L1046.0 1128.9L1058.9 1128.9L1058.9 1110.9L1071.9 1110.9L1071.9 1105.3L1084.8 1105.3L1084.8 1113.8L1097.8 1113.8L1097.8 1099.8L1110.7 1099.8L1110.7 1113.8L1123.6 1113.8L1123.6 1099.8L1136.6 1099.8L1136.6 1094.4L1149.5 1094.4L1149.5 1091.8L1162.4 1091.8L1162.4 1056.2L1175.4 1056.2L1175.4 1067.4L1188.3 1067.4L1188.3 1062.9L1201.2 1062.9L1201.2 1060.6L1214.2 1060.6L1214.2 1049.8L1227.1 1049.8L1227.1 1024.2L1240.1 1024.2L1240.1 1020.6L1253.0 1020.6L1253.0 1037.6L1265.9 1037.6L1265.9 1031.8L1278.9 1031.8L1278.9 1094.4L1291.8 1094.4L1291.8 1074.4L1304.8 1074.4L1304.8 1074.4L1317.7 1074.4L1317.7 1074.4L1330.6 1074.4L1330.6 1116.7L1343.6 1116.7L1343.6 1072.1L1356.5 1072.1L1356.5 1084.2L1369.4 1084.2L1369.4 1132.1L1382.4 1132.1L1382.4 1152.2L1395.3 1152.2L1395.3 1174.6L1408.2 1174.6L1408.2 1170.7L1421.2 1170.7L1421.2 1269.0L1434.1 1269.0L1434.1 1204.4L1447.1 1204.4L1447.1 1336.8L1460.0 1336.8L1460.0 1269.0L1472.9 1269.0L1472.9 1387.7L1485.9 1387.7L1485.9 1563.1L1498.8 1563.1L1498.8 1426.1L1511.8 1426.1L1511.8 1473.8L1524.7 1473.8L1524.7 1492.6L1537.6 1492.6L1537.6 1593.5L1550.6 1593.5L1550.6 1593.5L1563.5 1593.5L1563.5 1730.5L1576.4 1730.5L1576.4 1810.6L1589.4 1810.6L1589.4 1947.6L1602.3 1947.6L1602.3 1810.6L1615.2 1810.6L1615.2 2080.0L1628.2 2080.0L1628.2 2080.0L1641.1 2080.0L1641.1 2080.0L1654.1 2080.0L1654.1 2080.0L1667.0 2080.0L1667.0 2080.0L1679.9 2080.0L1679.9 2080.0L1692.9 2080.0L1692.9 2080.0L1705.8 2080.0L1705.8 2080.0L1718.8 2080.0L1718.8 2080.0L1731.7 2080.0L1731.7 2080.0L1744.6 2080.0L1744.6 2080.0L1757.6 2080.0L1757.6 2080.0L1770.5 2080.0L1770.5 2080.0L1783.4 2080.0L1783.4 2080.0L1796.4 2080.0L1796.4 2080.0L1809.3 2080.0L1809.3 2080.0L1822.2 2080.0L1822.2 2080.0L1835.2 2080.0L1835.2 2080.0L1848.1 2080.0L1848.1 2080.0L1861.1 2080.0L1861.1 2080.0L1874.0 2080.0L1874.0 2080.0L1886.9 2080.0L1886.9 2080.0L1899.9 2080.0L1899.9 2080.0L1912.8 2080.0L1912.8 2080.0L1925.8 2080.0L1925.8 2080.0L1938.7 2080.0L1938.7 2080.0L1951.6 2080.0L1951.6 2080.0L1964.6 2080.0L1964.6 2080.0L1977.5 2080.0L1977.5 2080.0L1990.4 2080.0L1990.4 2080.0L2003.4 2080.0L2003.4 2080.0L2016.3 2080.0L2016.3 2080.0L2029.2 2080.0L2029.2 2080.0L2042.2 2080.0L2042.2 2080.0L2055.1 2080.0L2055.1 2080.0L2068.1 2080.0L2068.1 2080.0L2081.0 2080.0L2081.0 2080.0L2093.9 2080.0L2093.9 2080.0L2106.9 2080.0L2106.9 2080.0L2119.8 2080.0L2119.8 2080.0L2132.8 2080.0L2132.8 2080.0L2145.7 2080.0L2145.7 2080.0L2158.6 2080.0L2158.6 2080.0L2171.6 2080.0L2171.6 2080.0L2184.5 2080.0L2184.5 2080.0L2197.4 2080.0L2197.4 2080.0L2210.4 2080.0L2210.4 2080.0L2223.3 2080.0L2223.3 2080.0L2236.2 2080.0L2236.2 2080.0L2249.2 2080.0L2249.2 2080.0L2262.1 2080.0L2262.1 2080.0L2275.1 2080.0L2275.1 2080.0L2288.0 2080.0L2288.0 2080.0L2300.9 2080.0L2300.9 2080.0L2313.9 2080.0L2313.9 2080.0L2326.8 2080.0L2326.8 2080.0L2339.8 2080.0L2339.8 2080.0L2352.7 2080.0L2352.7 2080.0L2365.6 2080.0L2365.6 2080.0L2378.6 2080.0L2378.6 2080.0L2391.5 2080.0L2391.5 2080.0L2404.4 2080.0L2404.4 2080.0L2417.4 2080.0L2417.4 2080.0L2430.3 2080.0L2430.3 2080.0L2443.2 2080.0L2443.2 2080.0L2456.2 2080.0L2456.2 2080.0L2469.1 2080.0L2469.1 2080.0L2482.1 2080.0L2482.1 2080.0L2495.0 2080.0L2495.0 2080.0L2507.9 2080.0L2507.9 2080.0L2520.9 2080.0L2520.9 2080.0L2533.8 2080.0L2533.8 2080.0L2546.8 2080.0L2546.8 2080.0L2559.7 2080.0L2559.7 2080.0L2572.6 2080.0L2572.6 2080.0L2585.6 2080.0L2585.6 2080.0L2598.5 2080.0L2598.5 2080.0L2611.4 2080.0L2611.4 2080.0L2624.4 2080.0L2624.4 2080.0L2637.3 2080.0L2637.3 2080.0L2650.2 2080.0L2650.2 2080.0L2663.2 2080.0L2663.2 2080.0L2676.1 2080.0L2676.1 2080.0L2689.1 2080.0L2689.1 2080.0L2702.0 2080.0L2702.0 2080.0L2714.9 2080.0L2714.9 2080.0L2727.9 2080.0L2727.9 2080.0L2740.8 2080.0L2740.8 2080.0L2753.8 2080.0L2753.8 2080.0L2766.7 2080.0L2766.7 2080.0L2779.6 2080.0L2779.6 2080.0L2792.6 2080.0L2792.6 2080.0L2805.5 2080.0L2805.5 2080.0L2818.4 2080.0L2818.4 2080.0L2831.4 2080.0L2831.4 2080.0L2844.3 2080.0L2844.3 2080.0L2857.2 2080.0L2857.2 2080.0L2870.2 2080.0L2870.2 2080.0L2883.1 2080.0L2883.1 2080.0L2896.1 2080.0L2896.1 2080.0L2909.0 2080.0L2909.0 2080.0L2921.9 2080.0L2921.9 2080.0L2934.9 2080.0L2934.9 2080.0L2947.8 2080.0L2947.8 2080.0L2960.8 2080.0L2960.8 2080.0L2973.7 2080.0L2973.7 2080.0L2986.6 2080.0L2986.6 2080.0L2999.6 2080.0L2999.6 2080.0L3012.5 2080.0" stroke="#da00f8" stroke-width="9.2" fill="none" stroke-linejoin="miter" stroke-linecap="butt"/>
<path d="M430.0 2080.0L437.9 2080.0L437.9 2080.0L450.9 2080.0L450.9 2080.0L463.8 2080.0L463.8 2080.0L476.8 2080.0L476.8 2080.0L489.7 2080.0L489.7 2080.0L502.6 2080.0L502.6 2080.0L515.6 2080.0L515.6 2080.0L528.5 2080.0L528.5 2080.0L541.4 2080.0L541.4 2080.0L554.4 2080.0L554.4 2080.0L567.3 2080.0L567.3 2080.0L580.2 2080.0L580.2 2080.0L593.2 2080.0L593.2 2080.0L606.1 2080.0L606.1 2080.0L619.1 2080.0L619.1 2080.0L632.0 2080.0L632.0 2080.0L644.9 2080.0L644.9 2080.0L657.9 2080.0L657.9 2080.0L670.8 2080.0L670.8 2080.0L683.8 2080.0L683.8 2080.0L696.7 2080.0L696.7 2080.0L709.6 2080.0L709.6 2080.0L722.6 2080.0L722.6 2080.0L735.5 2080.0L735.5 2080.0L748.4 2080.0L748.4 2080.0L761.4 2080.0L761.4 2080.0L774.3 2080.0L774.3 2080.0L787.2 2080.0L787.2 2080.0L800.2 2080.0L800.2 2080.0L813.1 2080.0L813.1 2080.0L826.1 2080.0L826.1 1947.6L839.0 1947.6L839.0 2080.0L851.9 2080.0L851.9 2080.0L864.9 2080.0L864.9 2080.0L877.8 2080.0L877.8 2080.0L890.8 2080.0L890.8 2080.0L903.7 2080.0L903.7 2080.0L916.6 2080.0L916.6 2080.0L929.6 2080.0L929.6 2080.0L942.5 2080.0L942.5 2080.0L955.4 2080.0L955.4 2080.0L968.4 2080.0L968.4 2080.0L981.3 2080.0L981.3 2080.0L994.2 2080.0L994.2 2080.0L1007.2 2080.0L1007.2 2080.0L1020.1 2080.0L1020.1 2080.0L1033.1 2080.0L1033.1 2080.0L1046.0 2080.0L1046.0 2080.0L1058.9 2080.0L1058.9 2080.0L1071.9 2080.0L1071.9 2080.0L1084.8 2080.0L1084.8 2080.0L1097.8 2080.0L1097.8 2080.0L1110.7 2080.0L1110.7 2080.0L1123.6 2080.0L1123.6 2080.0L1136.6 2080.0L1136.6 2080.0L1149.5 2080.0L1149.5 2080.0L1162.4 2080.0L1162.4 2080.0L1175.4 2080.0L1175.4 2080.0L1188.3 2080.0L1188.3 2080.0L1201.2 2080.0L1201.2 2080.0L1214.2 2080.0L1214.2 2080.0L1227.1 2080.0L1227.1 2080.0L1240.1 2080.0L1240.1 2080.0L1253.0 2080.0L1253.0 2080.0L1265.9 2080.0L1265.9 2080.0L1278.9 2080.0L1278.9 2080.0L1291.8 2080.0L1291.8 2080.0L1304.8 2080.0L1304.8 2080.0L1317.7 2080.0L1317.7 2080.0L1330.6 2080.0L1330.6 2080.0L1343.6 2080.0L1343.6 2080.0L1356.5 2080.0L1356.5 2080.0L1369.4 2080.0L1369.4 2080.0L1382.4 2080.0L1382.4 2080.0L1395.3 2080.0L1395.3 2080.0L1408.2 2080.0L1408.2 2080.0L1421.2 2080.0L1421.2 2080.0L1434.1 2080.0L1434.1 2080.0L1447.1 2080.0L1447.1 2080.0L1460.0 2080.0L1460.0 2080.0L1472.9 2080.0L1472.9 2080.0L1485.9 2080.0L1485.9 2080.0L1498.8 2080.0L1498.8 2080.0L1511.8 2080.0L1511.8 2080.0L1524.7 2080.0L1524.7 2080.0L1537.6 2080.0L1537.6 2080.0L1550.6 2080.0L1550.6 2080.0L1563.5 2080.0L1563.5 2080.0L1576.4 2080.0L1576.4 2080.0L1589.4 2080.0L1589.4 2080.0L1602.3 2080.0L1602.3 2080.0L1615.2 2080.0L1615.2 2080.0L1628.2 2080.0L1628.2 2080.0L1641.1 2080.0L1641.1 2080.0L1654.1 2080.0L1654.1 2080.0L1667.0 2080.0L1667.0 2080.0L1679.9 2080.0L1679.9 2080.0L1692.9 2080.0L1692.9 2080.0L1705.8 2080.0L1705.8 2080.0L1718.8 2080.0L1718.8 2080.0L1731.7 2080.0L1731.7 2080.0L1744.6 2080.0L1744.6 2080.0L1757.6 2080.0L1757.6 2080.0L1770.5 2080.0L1770.5 2080.0L1783.4 2080.0L1783.4 2080.0L1796.4 2080.0L1796.4 2080.0L1809.3 2080.0L1809.3 2080.0L1822.2 2080.0L1822.2 2080.0L1835.2 2080.0L1835.2 2080.0L1848.1 2080.0L1848.1 2080.0L1861.1 2080.0L1861.1 2080.0L1874.0 2080.0L1874.0 2080.0L1886.9 2080.0L1886.9 2080.0L1899.9 2080.0L1899.9 2080.0L1912.8 2080.0L1912.8 2080.0L1925.8 2080.0L1925.8 2080.0L1938.7 2080.0L1938.7 2080.0L1951.6 2080.0L1951.6 2080.0L1964.6 2080.0L1964.6 2080.0L1977.5 2080.0L1977.5 2080.0L1990.4 2080.0L1990.4 2080.0L2003.4 2080.0L2003.4 2080.0L2016.3 2080.0L2016.3 2080.0L2029.2 2080.0L2029.2 2080.0L2042.2 2080.0L2042.2 2080.0L2055.1 2080.0L2055.1 2080.0L2068.1 2080.0L2068.1 2080.0L2081.0 2080.0L2081.0 2080.0L2093.9 2080.0L2093.9 2080.0L2106.9 2080.0L2106.9 2080.0L2119.8 2080.0L2119.8 2080.0L2132.8 2080.0L2132.8 2080.0L2145.7 2080.0L2145.7 2080.0L2158.6 2080.0L2158.6 2080.0L2171.6 2080.0L2171.6 2080.0L2184.5 2080.0L2184.5 2080.0L2197.4 2080.0L2197.4 2080.0L2210.4 2080.0L2210.4 2080.0L2223.3 2080.0L2223.3 2080.0L2236.2 2080.0L2236.2 2080.0L2249.2 2080.0L2249.2 2080.0L2262.1 2080.0L2262.1 2080.0L2275.1 2080.0L2275.1 2080.0L2288.0 2080.0L2288.0 2080.0L2300.9 2080.0L2300.9 2080.0L2313.9 2080.0L2313.9 2080.0L2326.8 2080.0L2326.8 2080.0L2339.8 2080.0L2339.8 2080.0L2352.7 2080.0L2352.7 2080.0L2365.6 2080.0L2365.6 2080.0L2378.6 2080.0L2378.6 2080.0L2391.5 2080.0L2391.5 2080.0L2404.4 2080.0L2404.4 2080.0L2417.4 2080.0L2417.4 2080.0L2430.3 2080.0L2430.3 2080.0L2443.2 2080.0L2443.2 2080.0L2456.2 2080.0L2456.2 2080.0L2469.1 2080.0L2469.1 2080.0L2482.1 2080.0L2482.1 2080.0L2495.0 2080.0L2495.0 2080.0L2507.9 2080.0L2507.9 2080.0L2520.9 2080.0L2520.9 2080.0L2533.8 2080.0L2533.8 2080.0L2546.8 2080.0L2546.8 2080.0L2559.7 2080.0L2559.7 2080.0L2572.6 2080.0L2572.6 2080.0L2585.6 2080.0L2585.6 2080.0L2598.5 2080.0L2598.5 2080.0L2611.4 2080.0L2611.4 2080.0L2624.4 2080.0L2624.4 2080.0L2637.3 2080.0L2637.3 2080.0L2650.2 2080.0L2650.2 2080.0L2663.2 2080.0L2663.2 2080.0L2676.1 2080.0L2676.1 2080.0L2689.1 2080.0L2689.1 2080.0L2702.0 2080.0L2702.0 2080.0L2714.9 2080.0L2714.9 2080.0L2727.9 2080.0L2727.9 2080.0L2740.8 2080.0L2740.8 2080.0L2753.8 2080.0L2753.8 2080.0L2766.7 2080.0L2766.7 2080.0L2779.6 2080.0L2779.6 2080.0L2792.6 2080.0L2792.6 2080.0L2805.5 2080.0L2805.5 2080.0L2818.4 2080.0L2818.4 2080.0L2831.4 2080.0L2831.4 2080.0L2844.3 2080.0L2844.3 2080.0L2857.2 2080.0L2857.2 2080.0L2870.2 2080.0L2870.2 2080.0L2883.1 2080.0L2883.1 2080.0L2896.1 2080.0L2896.1 2080.0L2909.0 2080.0L2909.0 2080.0L2921.9 2080.0L2921.9 2080.0L2934.9 2080.0L2934.9 2080.0L2947.8 2080.0L2947.8 2080.0L2960.8 2080.0L2960.8 2080.0L2973.7 2080.0L2973.7 2080.0L2986.6 2080.0L2986.6 2080.0L2999.6 2080.0L2999.6 2080.0L3012.5 2080.0" stroke="#8fffff" stroke-width="9.2" fill="none" stroke-linejoin="miter" stroke-linecap="butt"/>
<rect x="420" y="246" width="10" height="1844" fill="#000"/>
<path d="M342.20 1986.80L342.20 1921.50L335.30 1921.50C334.20 1928.30 329.20 1933.30 317.50 1933.90L317.50 1940.60L333.40 1940.60L333.40 1986.80Z" fill="#000"/>
<path d="M289.40 1533.10L289.40 1467.80L282.50 1467.80C281.40 1474.60 276.40 1479.60 264.70 1480.20L264.70 1486.90L280.60 1486.90L280.60 1533.10Z" fill="#000"/>
<text x="305.69" y="1533.10" font-family="Liberation Sans" font-size="95.3">0</text>
<path d="M255.20 1078.90L255.20 1013.60L248.30 1013.60C247.20 1020.40 242.20 1025.40 230.50 1026.00L230.50 1032.70L246.40 1032.70L246.40 1078.90Z" fill="#000"/>
<text x="272.89" y="1078.90" font-family="Liberation Sans" font-size="95.3">0</text>
<text x="322.67" y="1038.70" font-family="Liberation Sans" font-size="64.5">2</text>
<path d="M255.20 625.30L255.20 560.00L248.30 560.00C247.20 566.80 242.20 571.80 230.50 572.40L230.50 579.10L246.40 579.10L246.40 625.30Z" fill="#000"/>
<text x="272.89" y="625.30" font-family="Liberation Sans" font-size="95.3">0</text>
<text x="322.32" y="580.60" font-family="Liberation Sans" font-size="64.5">3</text>
<text x="394.59" y="2201.30" font-family="Liberation Sans" font-size="95.3">0</text>
<path d="M1185.40 2200.90L1185.40 2135.60L1178.50 2135.60C1177.40 2142.40 1172.40 2147.40 1160.70 2148.00L1160.70 2154.70L1176.60 2154.70L1176.60 2200.90Z" fill="#000"/>
<text x="1202.69" y="2201.30" font-family="Liberation Sans" font-size="95.3">0</text>
<text x="1934.03" y="2200.90" font-family="Liberation Sans" font-size="95.3">20</text>
<text x="2717.09" y="2201.30" font-family="Liberation Sans" font-size="95.3">30</text>
<text x="164.01" y="109.00" font-family="Liberation Sans" font-weight="bold" font-size="77.0" textLength="2214.74" lengthAdjust="spacingAndGlyphs">Muon momentum at target, after 5 mm plastic &amp; 0.2 mm mylar</text>
<text x="1618.69" y="2342.80" font-family="Liberation Sans" font-weight="normal" font-size="123.0" textLength="1389.06" lengthAdjust="spacingAndGlyphs">Muon momentum (MeV/c)</text>
<path d="M553 329.0H652" stroke="#000000" stroke-width="9.6"/>
<circle cx="603.4" cy="329.0" r="12.5" fill="#000"/>
<text x="672.07" y="352.50" font-family="Liberation Sans" font-weight="bold" font-size="68.5" textLength="285.25" lengthAdjust="spacingAndGlyphs">30 MeV/c</text>
<path d="M553 434.7H652" stroke="#d90000" stroke-width="9.6"/>
<circle cx="603.4" cy="434.7" r="12.5" fill="#000"/>
<text x="672.07" y="458.18" font-family="Liberation Sans" font-weight="bold" font-size="68.5" textLength="285.25" lengthAdjust="spacingAndGlyphs">29 MeV/c</text>
<path d="M553 540.4H652" stroke="#8fff36" stroke-width="9.6"/>
<circle cx="603.4" cy="540.4" r="12.5" fill="#000"/>
<text x="672.07" y="563.86" font-family="Liberation Sans" font-weight="bold" font-size="68.5" textLength="285.25" lengthAdjust="spacingAndGlyphs">28 MeV/c</text>
<path d="M553 646.0H652" stroke="#0000f5" stroke-width="9.6"/>
<circle cx="603.4" cy="646.0" r="12.5" fill="#000"/>
<text x="672.07" y="669.54" font-family="Liberation Sans" font-weight="bold" font-size="68.5" textLength="285.25" lengthAdjust="spacingAndGlyphs">27 MeV/c</text>
<path d="M553 751.7H652" stroke="#ffff38" stroke-width="9.6"/>
<circle cx="603.4" cy="751.7" r="12.5" fill="#000"/>
<text x="672.07" y="775.22" font-family="Liberation Sans" font-weight="bold" font-size="68.5" textLength="285.25" lengthAdjust="spacingAndGlyphs">26 MeV/c</text>
<path d="M553 857.4H652" stroke="#da00f8" stroke-width="9.6"/>
<circle cx="603.4" cy="857.4" r="12.5" fill="#000"/>
<text x="672.07" y="880.90" font-family="Liberation Sans" font-weight="bold" font-size="68.5" textLength="285.25" lengthAdjust="spacingAndGlyphs">25 MeV/c</text>
<path d="M553 963.1H652" stroke="#8fffff" stroke-width="9.6"/>
<circle cx="603.4" cy="963.1" r="12.5" fill="#000"/>
<text x="672.07" y="986.58" font-family="Liberation Sans" font-weight="bold" font-size="68.5" textLength="285.25" lengthAdjust="spacingAndGlyphs">24 MeV/c</text>
</svg>
</body></html>
